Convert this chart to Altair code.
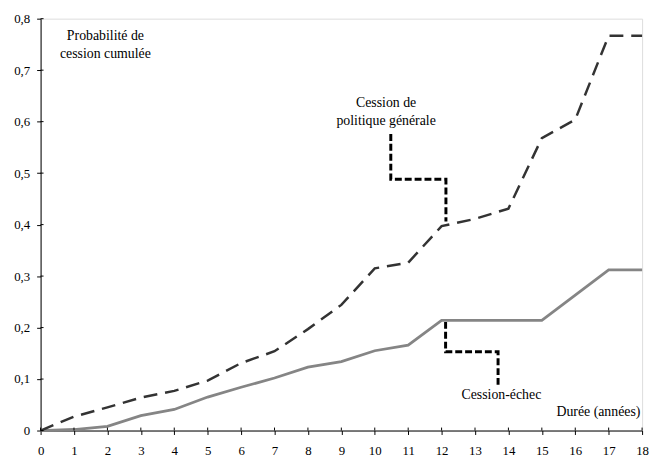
import altair as alt
import pandas as pd

years = list(range(19))
politique = [0, 0.027, 0.045, 0.064, 0.077, 0.097, 0.131, 0.154, 0.197, 0.244,
             0.315, 0.326, 0.397, 0.411, 0.431, 0.568, 0.604, 0.767, 0.767]
echec = [0, 0.002, 0.008, 0.029, 0.041, 0.065, 0.084, 0.102, 0.123, 0.134,
         0.155, 0.166, 0.214, 0.214, 0.214, 0.214, 0.263, 0.312, 0.312]

y_ticks = [0, 0.1, 0.2, 0.3, 0.4, 0.5, 0.6, 0.7, 0.8]

# callout leader lines (data coordinates)
call_pol_x = [10.48, 10.48, 12.13, 12.13]
call_pol_y = [0.576, 0.488, 0.488, 0.406]
call_ech_x = [12.12, 12.12, 13.69, 13.69]
call_ech_y = [0.211, 0.153, 0.153, 0.089]

# annotation texts
labels_center = ["Probabilité de", "cession cumulée", "Cession de", "politique générale", "Cession-échec"]
labels_center_x = [1.94, 1.94, 10.34, 10.34, 13.79]
labels_center_y = [0.767, 0.731, 0.636, 0.602, 0.068]
label_right = ["Durée (années)"]
label_right_x = [17.95]
label_right_y = [0.036]

FONT = "Liberation Serif"
W, H = 609, 417

df = pd.DataFrame({"annee": years, "politique": politique, "echec": echec})
df_call = pd.DataFrame({
    "x": call_pol_x + call_ech_x,
    "y": call_pol_y + call_ech_y,
    "g": ["pol"] * 4 + ["ech"] * 4,
    "o": list(range(4)) + list(range(4)),
})
df_tc = pd.DataFrame({"x": labels_center_x, "y": labels_center_y, "t": labels_center})
df_tr = pd.DataFrame({"x": label_right_x, "y": label_right_y, "t": label_right})

xs = alt.Scale(domain=[0, 18], nice=False, zero=False)
ys = alt.Scale(domain=[0, 0.8], nice=False)

x_axis = alt.Axis(values=years, title=None, grid=False, domainColor="black", tickColor="black",
                  tickSize=4, labelFont=FONT, labelFontSize=13, labelColor="black",
                  labelPadding=10, labelAngle=0, labelFlush=False, labelOverlap=False,
                  labelBound=False)
y_axis = alt.Axis(values=y_ticks, title=None, grid=False, domainColor="black", tickColor="black",
                  tickSize=4, labelFont=FONT, labelFontSize=13, labelColor="black",
                  labelPadding=7, labelFlush=False, labelOverlap=False, labelBound=False,
                  labelExpr="datum.value == 0 ? '0' : replace(format(datum.value, '.1f'), '.', ',')")


def X(field):
    return alt.X(field, type="quantitative", scale=xs, axis=x_axis)


def Y(field):
    return alt.Y(field, type="quantitative", scale=ys, axis=y_axis)


base = alt.Chart(df)

solid = base.mark_line(color="#858585", strokeWidth=2.8).encode(x=X("annee"), y=Y("echec"))
dashed = base.mark_line(color="#333333", strokeWidth=2.5, strokeDash=[14, 8]).encode(
    x=X("annee"), y=Y("politique"))

callouts = alt.Chart(df_call).mark_line(color="black", strokeWidth=3, strokeDash=[7, 3]).encode(
    x=X("x"), y=Y("y"), detail="g:N", order="o:Q")

# inner part of the crossing ticks
xt = alt.Chart(pd.DataFrame({"v": years})).mark_rule(color="black", strokeWidth=1).encode(
    x=X("v"), y=alt.value(H), y2=alt.value(H - 3))
yt = alt.Chart(pd.DataFrame({"v": y_ticks})).mark_rule(color="black", strokeWidth=1).encode(
    y=Y("v"), x=alt.value(0), x2=alt.value(3))

tc = alt.Chart(df_tc).mark_text(font=FONT, fontSize=14, color="black", align="center",
                                baseline="middle").encode(x=X("x"), y=Y("y"), text="t:N")
tr = alt.Chart(df_tr).mark_text(font=FONT, fontSize=14, color="black", align="right",
                                baseline="middle").encode(x=X("x"), y=Y("y"), text="t:N")

chart = alt.layer(solid, dashed, callouts, xt, yt, tc, tr).properties(
    width=W, height=H,
    autosize=alt.AutoSizeParams(type="none"),
    padding={"left": 33, "top": 8, "right": 7, "bottom": 25},
).configure_view(stroke=None).configure(background="white").configure_axis(
    labelOverlap=False, labelFont=FONT)

chart.save("out.html", embed_options={"renderer": "svg", "actions": False})
